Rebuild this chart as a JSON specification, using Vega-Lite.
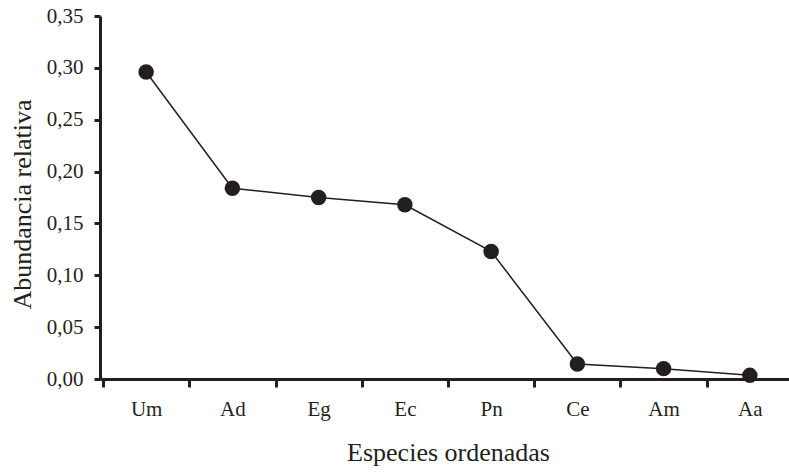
{
  "$schema": "https://vega.github.io/schema/vega-lite/v6.json",
  "autosize": {"type": "none"},
  "padding": {"left": 100, "top": 16, "right": 0, "bottom": 93},
  "width": 689,
  "height": 363,
  "background": "white",
  "data": {"values": [
    {"especie": "Um", "abundancia": 0.296},
    {"especie": "Ad", "abundancia": 0.184},
    {"especie": "Eg", "abundancia": 0.175},
    {"especie": "Ec", "abundancia": 0.168},
    {"especie": "Pn", "abundancia": 0.123},
    {"especie": "Ce", "abundancia": 0.0145},
    {"especie": "Am", "abundancia": 0.010},
    {"especie": "Aa", "abundancia": 0.0035}
  ]},
  "encoding": {
    "x": {
      "field": "especie", "type": "nominal", "sort": null,
      "scale": {"type": "band", "range": [0, 696], "paddingInner": 0, "paddingOuter": 0.035},
      "axis": {
        "title": "Especies ordenadas",
        "labelAngle": 0,
        "tickBand": "extent",
        "tickSize": 8,
        "labelPadding": 11,
        "titlePadding": 20
      }
    },
    "y": {
      "field": "abundancia", "type": "quantitative",
      "scale": {"domain": [0, 0.35], "nice": false, "zero": true},
      "axis": {
        "title": "Abundancia relativa",
        "values": [0, 0.05, 0.1, 0.15, 0.2, 0.25, 0.3, 0.35],
        "labelExpr": "replace(format(datum.value, '.2f'), '.', ',')",
        "tickSize": 6,
        "labelPadding": 11,
        "grid": false,
        "titleX": -70,
        "titleY": 188,
        "titleBaseline": "alphabetic",
        "titleAngle": -90
      }
    }
  },
  "layer": [
    {
      "mark": {"type": "line", "color": "#231f20", "strokeWidth": 1.5},
      "encoding": {"order": {"value": null}}
    },
    {
      "mark": {"type": "circle", "color": "#231f20", "opacity": 1, "size": 240}
    }
  ],
  "config": {
    "view": {"stroke": null},
    "font": "Liberation Serif",
    "axis": {
      "grid": false,
      "domainColor": "#231f20",
      "domainWidth": 3,
      "tickColor": "#231f20",
      "tickWidth": 3,
      "labelFont": "Liberation Serif",
      "labelFontSize": 21,
      "labelColor": "#231f20",
      "titleFont": "Liberation Serif",
      "titleFontSize": 26,
      "titleFontWeight": "normal",
      "titleColor": "#231f20"
    }
  }
}
